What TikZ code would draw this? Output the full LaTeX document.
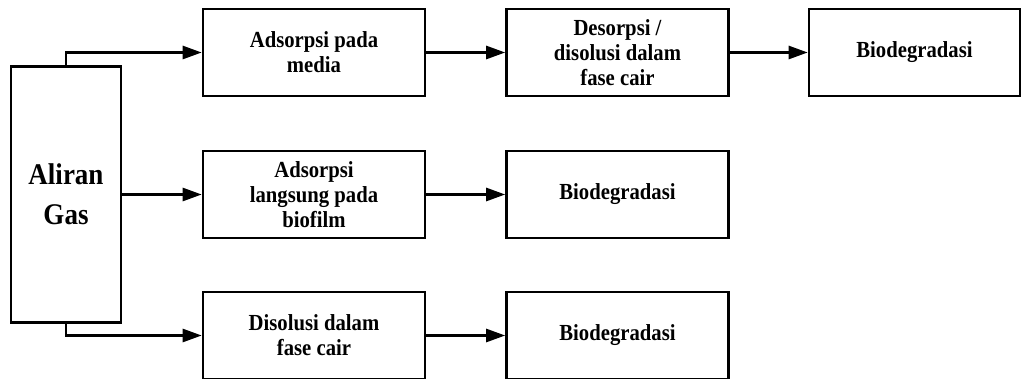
\documentclass[tikz,border=0pt]{standalone}
\usepackage{fontspec}
\setmainfont{Liberation Serif}[FakeStretch=0.9]
\usepackage{xcolor}
\usepackage{tikz}
\usetikzlibrary{arrows.meta}
\definecolor{inkmain}{HTML}{000000}
\tikzset{every node/.append style={font=\rmfamily\bfseries}}

\begin{document}
\begin{tikzpicture}[>={Triangle[length=19pt,width=13pt]},x=1pt,y=-1pt,
    stage/.style={draw=inkmain,line width=2.6pt,minimum width=222pt,minimum height=87pt,
      inner sep=0pt,align=center,font=\rmfamily\bfseries\fontsize{23}{25}\selectfont},
    source/.style={draw=inkmain,line width=2.6pt,minimum width=110pt,minimum height=256pt,
      inner sep=0pt,align=center,font=\rmfamily\bfseries\fontsize{30}{40}\selectfont},
    flow/.style={->,inkmain,line width=2.6pt}]
  \useasboundingbox (0,0) rectangle (1025,379);
  % three paths from the gas stream, one per row
  \node[source] (gas) at (66,194.5) {Aliran\\Gas};
  \node[stage] (ads) at (314,52.5) {Adsorpsi pada\\media};
  \node[stage] (des) at (617.5,52.5) {Desorpsi /\\disolusi dalam\\fase cair};
  \node[stage,minimum width=211pt] (bioA) at (914.5,52.5) {Biodegradasi};
  \node[stage] (lang) at (314,194.5) {Adsorpsi\\langsung pada\\biofilm};
  \node[stage] (bioB) at (617.5,194.5) {Biodegradasi};
  \node[stage] (dis) at (314,335.5) {Disolusi dalam\\fase cair};
  \node[stage] (bioC) at (617.5,335.5) {Biodegradasi};
  \draw[flow] (gas.north) |- (ads.west);
  \draw[flow] (gas.east) -- (lang.west);
  \draw[flow] (gas.south) |- (dis.west);
  \draw[flow] (ads) -- (des);
  \draw[flow] (des) -- (bioA);
  \draw[flow] (lang) -- (bioB);
  \draw[flow] (dis) -- (bioC);
\end{tikzpicture}
\end{document}
